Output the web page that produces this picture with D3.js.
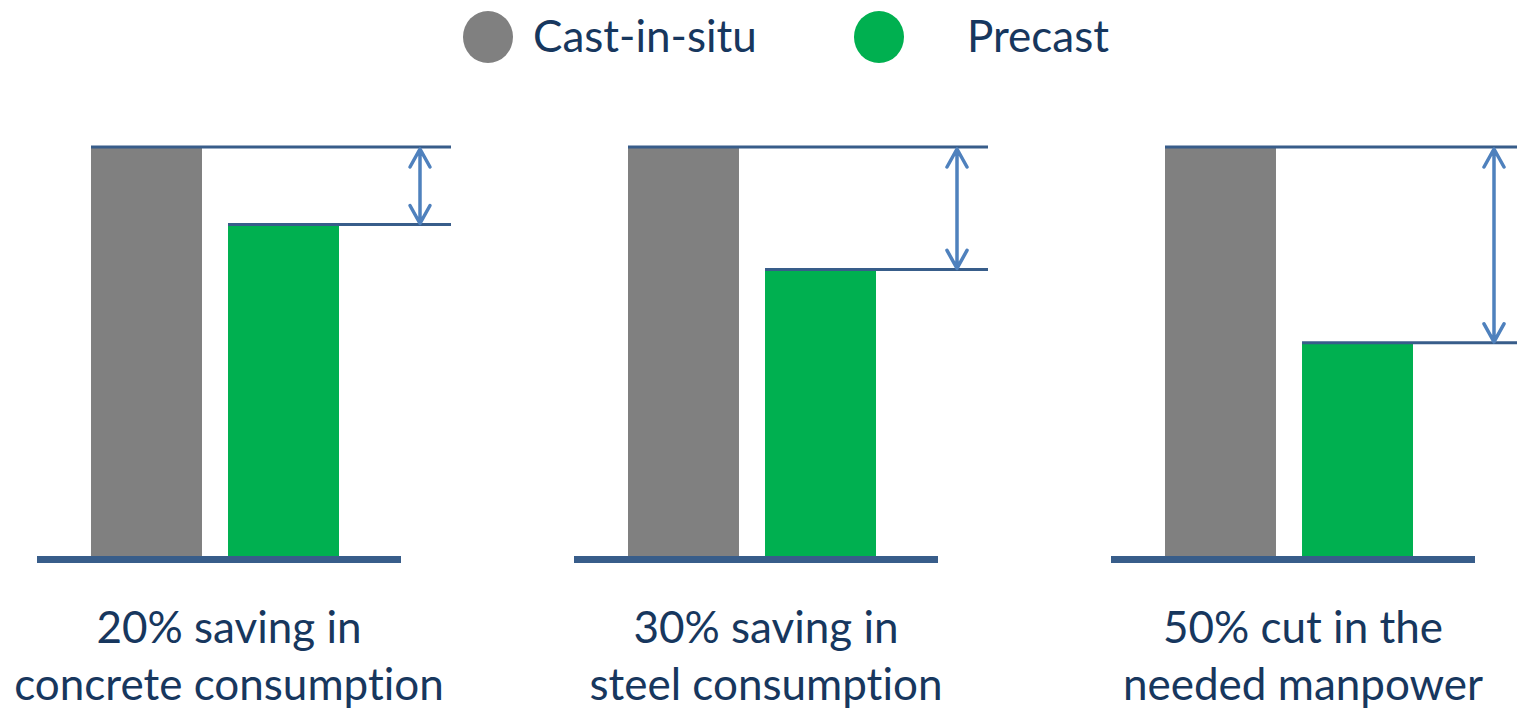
<!DOCTYPE html>
<html>
<head>
<meta charset="utf-8">
<script src="https://cdn.jsdelivr.net/npm/d3@7"></script>
<style>
  body { margin: 0; background: #fff; }
  text { font-family: Lato, "Open Sans", sans-serif; fill: #17375E; font-variant-ligatures: none; }
</style>
</head>
<body>
<script>
var width = 1517, height = 708;

// data
var panels = ["concrete", "steel", "manpower"];
var series = ["Cast-in-situ", "Precast"];
var castValues = [100, 100, 100];
var precastValues = [81, 70, 52];
var captions = [
  ["20% saving in", "concrete consumption"],
  ["30% saving in", "steel consumption"],
  ["50% cut in the", "needed manpower"]
];

var color_series = { "Cast-in-situ": "#808080", "Precast": "#00B050" };
var color_line = "#385D8A", color_arrow = "#4F81BD";

var svg = d3.select("body").append("svg")
  .attr("width", width).attr("height", height);

var x0 = d3.scalePoint().domain(panels).range([215, 1289]);
var x1 = d3.scaleBand().domain(series).range([-124, 124]).paddingInner(0.19);
var y = d3.scaleLinear().domain([0, 100]).range([556, 148]);

// legend
var legend = svg.append("g");
var lx = d3.scalePoint().domain(series).range([488, 879]);
legend.selectAll("ellipse").data(series).enter().append("ellipse")
  .attr("cx", function(d) { return lx(d); })
  .attr("cy", 37).attr("rx", 25).attr("ry", 26)
  .attr("fill", function(d) { return color_series[d]; });
legend.selectAll("text").data(series).enter().append("text")
  .attr("x", function(d, i) { return lx(d) + (i === 0 ? 45 : 88); })
  .attr("y", 37).attr("dy", "0.35em")
  .attr("font-size", 44)
  .text(function(d) { return d; });

var rows = panels.map(function(p, i) {
  return { panel: p, cast: castValues[i], pre: precastValues[i], caption: captions[i] };
});

var g = svg.selectAll("g.panel").data(rows).enter().append("g")
  .attr("class", "panel")
  .attr("transform", function(d) { return "translate(" + x0(d.panel) + ",0)"; });

// bars
g.each(function(d) {
  var sel = d3.select(this);
  var vals = [{ s: "Cast-in-situ", v: d.cast }, { s: "Precast", v: d.pre }];
  sel.selectAll("rect").data(vals).enter().append("rect")
    .attr("x", function(e) { return x1(e.s); })
    .attr("y", function(e) { return y(e.v); })
    .attr("width", x1.bandwidth())
    .attr("height", function(e) { return y(0) - y(e.v); })
    .attr("fill", function(e) { return color_series[e.s]; });
});

var bw = x1.bandwidth();
var lineEnd = x1("Precast") + bw + 112;
var arrowX = x1("Precast") + bw + 81;

// reference lines
g.append("line")
  .attr("x1", x1("Cast-in-situ")).attr("x2", lineEnd)
  .attr("y1", function(d) { return y(d.cast) - 1; })
  .attr("y2", function(d) { return y(d.cast) - 1; })
  .attr("stroke", color_line).attr("stroke-width", 3);
g.append("line")
  .attr("x1", x1("Precast")).attr("x2", lineEnd)
  .attr("y1", function(d) { return y(d.pre) - 1; })
  .attr("y2", function(d) { return y(d.pre) - 1; })
  .attr("stroke", color_line).attr("stroke-width", 3);

// baseline
g.append("line")
  .attr("x1", -178).attr("x2", 186)
  .attr("y1", y(0) + 3.5).attr("y2", y(0) + 3.5)
  .attr("stroke", color_line).attr("stroke-width", 7);

// double arrows
g.append("path")
  .attr("d", function(d) {
    var t = y(d.cast) + 1, b = y(d.pre) - 2, hw = 10, hl = 18;
    return "M" + arrowX + "," + t + "L" + arrowX + "," + b +
      "M" + (arrowX - hw) + "," + (t + hl) + "L" + arrowX + "," + t + "L" + (arrowX + hw) + "," + (t + hl) +
      "M" + (arrowX - hw) + "," + (b - hl) + "L" + arrowX + "," + b + "L" + (arrowX + hw) + "," + (b - hl);
  })
  .attr("fill", "none").attr("stroke", color_arrow)
  .attr("stroke-width", 3.5).attr("stroke-linecap", "round").attr("stroke-linejoin", "round");

// captions
var cap = g.append("text")
  .attr("text-anchor", "middle")
  .attr("font-size", 44);
cap.selectAll("tspan").data(function(d) { return d.caption; }).enter().append("tspan")
  .attr("x", 14)
  .attr("y", function(d, i) { return 643 + i * 57; })
  .text(function(d) { return d; });
</script>
</body>
</html>
